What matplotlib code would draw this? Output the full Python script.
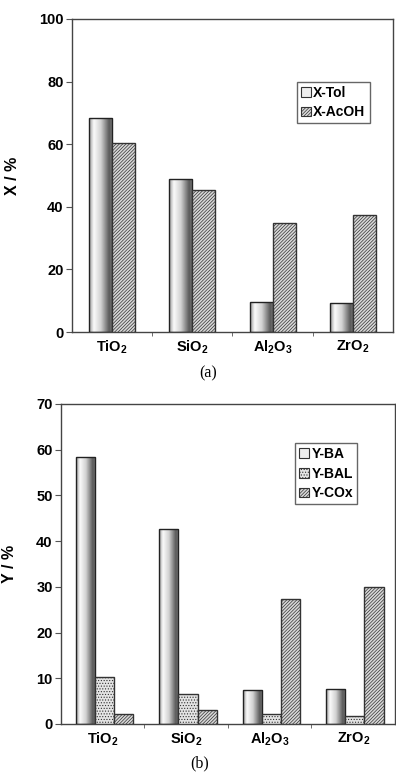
import matplotlib
matplotlib.use('Agg')
import matplotlib.pyplot as plt
import numpy as np

plt.rc('font', family='Liberation Sans', weight='bold', size=10)
plt.rc('axes', labelweight='bold')
plt.rc('mathtext', fontset='custom', rm='Liberation Sans:bold',
       bf='Liberation Sans:bold', it='Liberation Sans:bold')
plt.rc('hatch', linewidth=0.5)

supports = [r'$\mathrm{TiO_2}$', r'$\mathrm{SiO_2}$',
            r'$\mathrm{Al_2O_3}$', r'$\mathrm{ZrO_2}$']

# panel (a): conversion
x_tol = [68.4, 48.9, 9.7, 9.4]
x_acoh = [60.4, 45.4, 34.7, 37.5]

# panel (b): yields
y_ba = [58.3, 42.6, 7.4, 7.7]
y_bal = [10.2, 6.5, 2.1, 1.8]
y_cox = [2.1, 3.1, 27.3, 30.0]

# horizontal gradient used for the first series
prof_x = [0.0, 0.2, 0.5, 0.85, 1.0]
prof_v = [0.6, 0.98, 0.82, 0.35, 0.5]
grad = np.interp(np.linspace(0, 1, 64), prof_x, prof_v)[None, :]

HATCH = '//////////'
DOTS = '......'


def gradient_bars(ax, xs, vals, w):
    bars = ax.bar(xs, vals, w, facecolor='none', edgecolor='#222222',
                  lw=1, zorder=3)
    for b in bars:
        x0 = b.get_x()
        im = ax.imshow(grad, cmap='gray', vmin=0, vmax=1, aspect='auto',
                       extent=(x0, x0 + b.get_width(), 0, b.get_height()),
                       zorder=2, interpolation='bilinear')
        im.set_clip_path(b)
    return bars


def style_axes(ax, ymax, step):
    ax.set_xlim(-0.5, 3.5)
    ax.set_ylim(0, ymax)
    ax.set_yticks(np.arange(0, ymax + 1, step))
    ax.set_xticks(range(4))
    ax.set_xticklabels(supports, fontsize=10.5)
    ax.set_xticks([0.5, 1.5, 2.5], minor=True)
    ax.tick_params(axis='x', which='major', length=0, pad=5)
    ax.tick_params(axis='x', which='minor', length=3, color='#555555')
    ax.tick_params(axis='y', length=4, color='#555555', pad=2,
                   labelsize=10.5)
    for s in ax.spines.values():
        s.set_color('#444444')
        s.set_linewidth(1)


def hatched(ax, xs, vals, w, fc, hatch):
    ax.bar(xs, vals, w, facecolor=fc, edgecolor='#333333', hatch=hatch,
           lw=1, zorder=3)


fig = plt.figure(figsize=(3.96, 7.72), dpi=100)

# (a)
ax1 = fig.add_axes([0.1818, 0.5699, 0.8106, 0.4055])
w = 0.287
gradient_bars(ax1, np.arange(4) - w / 2, x_tol, w)
hatched(ax1, np.arange(4) + w / 2, x_acoh, w, '#d8d8d8', HATCH)
style_axes(ax1, 100, 20)
ax1.set_ylabel('X / %', fontsize=11.5, fontweight='bold')
ax1.yaxis.set_label_coords(-0.162, 0.5)
h1 = [plt.Rectangle((0, 0), 1, 1, fc='#eeeeee', ec='#333333', lw=0.8),
      plt.Rectangle((0, 0), 1, 1, fc='#d8d8d8', ec='#333333', lw=0.8,
                    hatch=HATCH)]
ax1.legend(h1, ['X-Tol', 'X-AcOH'], loc='upper left',
           bbox_to_anchor=(0.70, 0.80), borderaxespad=0, fancybox=False,
           edgecolor='#666666', framealpha=1, handlelength=0.7,
           handleheight=0.7, handletextpad=0.2, borderpad=0.3,
           labelspacing=0.4, fontsize=10)

# (b)
ax2 = fig.add_axes([0.154, 0.0622, 0.8434, 0.4145])
w = 0.23
gradient_bars(ax2, np.arange(4) - w + 0.02, y_ba, w)
hatched(ax2, np.arange(4) + 0.02, y_bal, w, '#e4e4e4', DOTS)
hatched(ax2, np.arange(4) + w + 0.02, y_cox, w, '#d8d8d8', HATCH)
style_axes(ax2, 70, 10)
ax2.set_ylabel('Y / %', fontsize=11.5, fontweight='bold')
ax2.yaxis.set_label_coords(-0.132, 0.5)
h2 = [plt.Rectangle((0, 0), 1, 1, fc='#eeeeee', ec='#333333', lw=0.8),
      plt.Rectangle((0, 0), 1, 1, fc='#e4e4e4', ec='#333333', lw=0.8,
                    hatch=DOTS),
      plt.Rectangle((0, 0), 1, 1, fc='#d8d8d8', ec='#333333', lw=0.8,
                    hatch=HATCH)]
ax2.legend(h2, ['Y-BA', 'Y-BAL', 'Y-COx'], loc='upper left',
           bbox_to_anchor=(0.70, 0.878), borderaxespad=0, fancybox=False,
           edgecolor='#666666', framealpha=1, handlelength=0.7,
           handleheight=0.7, handletextpad=0.2, borderpad=0.3,
           labelspacing=0.4, fontsize=10)

fig.text(208 / 396, 1 - 373 / 772, '(a)', family='Liberation Serif',
         weight='normal', fontsize=11.5, ha='center', va='center')
fig.text(200 / 396, 1 - 763 / 772, '(b)', family='Liberation Serif',
         weight='normal', fontsize=11.5, ha='center', va='center')

fig.savefig('out.png', dpi=100)
